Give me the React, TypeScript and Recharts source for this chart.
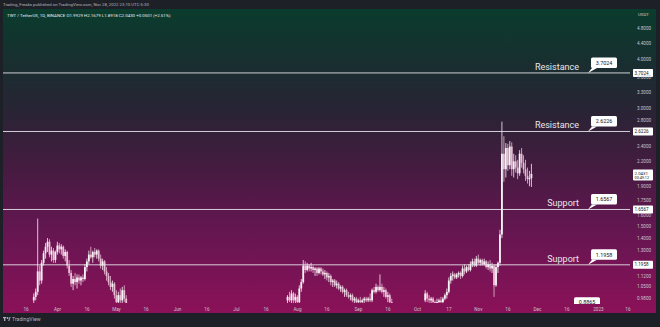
import { ComposedChart, Bar, XAxis, YAxis, ReferenceLine } from 'recharts';

// TWT / USDT daily candles, three visible stretches (the rest sits under the price range)
const springStart = '2022-03-20';
const springOpen = [0.97, 0.99, 1.02, 1.15, 1.09, 1.21, 1.28, 1.33, 1.37, 1.27, 1.3, 1.23, 1.29, 1.34, 1.31, 1.33, 1.26, 1.29, 1.19, 1.14, 1.07, 1.1, 1.08, 1.11, 1.09, 1.11, 1.1, 1.18, 1.22, 1.27, 1.25, 1.29, 1.27, 1.3, 1.24, 1.19, 1.22, 1.15, 1.12, 1.08, 1.05, 1.07, 1.0, 0.96, 1.0, 0.97, 1.03, 0.98];
const springHigh = [1.01, 1.04, 1.57, 1.19, 1.23, 1.3, 1.36, 1.4, 1.39, 1.33, 1.32, 1.3, 1.37, 1.36, 1.35, 1.34, 1.31, 1.3, 1.23, 1.16, 1.12, 1.14, 1.13, 1.13, 1.12, 1.13, 1.2, 1.24, 1.3, 1.33, 1.3, 1.32, 1.31, 1.31, 1.27, 1.24, 1.23, 1.18, 1.14, 1.12, 1.09, 1.08, 1.03, 1.02, 1.04, 1.05, 1.06, 1.0];
const springLow = [0.95, 0.97, 1.0, 1.06, 1.07, 1.19, 1.24, 1.29, 1.25, 1.22, 1.21, 1.21, 1.27, 1.28, 1.27, 1.24, 1.22, 1.17, 1.12, 1.05, 1.03, 1.06, 1.04, 1.07, 1.06, 1.08, 1.09, 1.15, 1.2, 1.24, 1.21, 1.25, 1.24, 1.22, 1.17, 1.16, 1.13, 1.09, 1.06, 1.03, 1.02, 0.98, 0.93, 0.94, 0.95, 0.95, 0.96, 0.9];
const springClose = [0.99, 1.02, 1.15, 1.09, 1.21, 1.28, 1.33, 1.37, 1.27, 1.3, 1.23, 1.29, 1.34, 1.31, 1.33, 1.26, 1.29, 1.19, 1.14, 1.07, 1.1, 1.08, 1.11, 1.09, 1.11, 1.1, 1.18, 1.22, 1.27, 1.25, 1.29, 1.27, 1.3, 1.24, 1.19, 1.22, 1.15, 1.12, 1.08, 1.05, 1.07, 1.0, 0.96, 1.0, 0.97, 1.03, 0.98, 0.92];

const summerStart = '2022-07-27';
const summerOpen = [0.97, 0.99, 0.97, 1.01, 0.97, 0.99, 0.96, 1.04, 1.08, 1.19, 1.16, 1.19, 1.17, 1.18, 1.16, 1.17, 1.14, 1.17, 1.15, 1.13, 1.14, 1.11, 1.12, 1.08, 1.09, 1.06, 1.07, 1.04, 1.05, 1.02, 1.03, 1.0, 0.99, 1.0, 0.97, 0.98, 0.96, 0.97, 0.96, 0.97, 0.98, 0.97, 0.98, 0.97, 1.03, 1.02, 1.05, 1.03, 1.05, 1.02, 1.03, 0.99, 1.0, 0.96];
const summerHigh = [1.0, 1.02, 1.03, 1.02, 1.01, 1.0, 1.06, 1.1, 1.23, 1.22, 1.21, 1.2, 1.21, 1.19, 1.18, 1.18, 1.18, 1.18, 1.17, 1.16, 1.15, 1.14, 1.13, 1.1, 1.1, 1.09, 1.08, 1.06, 1.06, 1.04, 1.04, 1.02, 1.01, 1.01, 0.99, 0.99, 0.98, 0.99, 0.98, 0.99, 0.99, 0.99, 1.01, 1.04, 1.05, 1.07, 1.06, 1.13, 1.07, 1.05, 1.04, 1.02, 1.01, 0.98];
const summerLow = [0.94, 0.96, 0.95, 0.95, 0.94, 0.93, 0.95, 1.02, 1.07, 1.14, 1.15, 1.15, 1.15, 1.14, 1.12, 1.12, 1.13, 1.13, 1.12, 1.1, 1.09, 1.08, 1.06, 1.05, 1.05, 1.04, 1.03, 1.02, 1.01, 0.99, 0.99, 0.98, 0.97, 0.96, 0.95, 0.95, 0.94, 0.95, 0.94, 0.95, 0.96, 0.96, 0.96, 0.96, 1.01, 1.01, 1.02, 1.02, 1.01, 0.99, 0.98, 0.96, 0.94, 0.93];
const summerClose = [0.99, 0.97, 1.01, 0.97, 0.99, 0.96, 1.04, 1.08, 1.19, 1.16, 1.19, 1.17, 1.18, 1.16, 1.17, 1.14, 1.17, 1.15, 1.13, 1.14, 1.11, 1.12, 1.08, 1.09, 1.06, 1.07, 1.04, 1.05, 1.02, 1.03, 1.0, 0.99, 1.0, 0.97, 0.98, 0.96, 0.97, 0.96, 0.97, 0.98, 0.97, 0.98, 0.97, 1.03, 1.02, 1.05, 1.03, 1.05, 1.02, 1.03, 0.99, 1.0, 0.96, 0.95];

const autumnStart = '2022-10-05';
const autumnOpen = [0.97, 1.01, 0.98, 0.97, 0.98, 0.96, 0.95, 0.96, 0.97, 0.96, 0.98, 1.0, 1.02, 1.09, 1.12, 1.13, 1.11, 1.13, 1.14, 1.12, 1.17, 1.15, 1.18, 1.16, 1.2, 1.22, 1.19, 1.24, 1.21, 1.23, 1.2, 1.22, 1.18, 1.2, 1.17, 1.19, 1.06, 1.18, 1.21, 1.43, 2.3, 2.1, 2.38, 2.15, 2.4, 2.1, 2.2, 2.12, 2.05, 2.3, 2.18, 2.1, 2.02, 1.98, 1.9929];
const autumnHigh = [1.03, 1.02, 1.0, 0.99, 0.99, 0.97, 0.98, 0.98, 0.99, 0.99, 1.01, 1.04, 1.11, 1.14, 1.15, 1.14, 1.14, 1.15, 1.15, 1.19, 1.2, 1.19, 1.2, 1.22, 1.24, 1.24, 1.26, 1.27, 1.24, 1.24, 1.24, 1.23, 1.22, 1.23, 1.21, 1.2, 1.2, 1.22, 1.47, 2.78, 2.55, 2.45, 2.44, 2.48, 2.46, 2.3, 2.28, 2.22, 2.35, 2.38, 2.28, 2.22, 2.12, 2.08, 2.1679];
const autumnLow = [0.96, 0.96, 0.95, 0.95, 0.95, 0.93, 0.94, 0.94, 0.95, 0.95, 0.97, 0.98, 1.01, 1.07, 1.09, 1.1, 1.1, 1.11, 1.1, 1.11, 1.13, 1.14, 1.15, 1.15, 1.18, 1.18, 1.18, 1.2, 1.19, 1.19, 1.19, 1.17, 1.16, 1.15, 1.14, 0.99, 1.05, 1.14, 1.19, 1.4, 1.95, 2.0, 2.08, 2.1, 2.02, 2.0, 2.06, 1.98, 2.02, 2.12, 2.05, 1.96, 1.93, 1.9, 1.8918];
const autumnClose = [1.01, 0.98, 0.97, 0.98, 0.96, 0.95, 0.96, 0.97, 0.96, 0.98, 1.0, 1.02, 1.09, 1.12, 1.13, 1.11, 1.13, 1.14, 1.12, 1.17, 1.15, 1.18, 1.16, 1.2, 1.22, 1.19, 1.24, 1.21, 1.23, 1.2, 1.22, 1.18, 1.2, 1.17, 1.19, 1.06, 1.18, 1.21, 1.43, 2.3, 2.1, 2.38, 2.15, 2.4, 2.1, 2.2, 2.12, 2.05, 2.3, 2.18, 2.1, 2.02, 1.98, 1.9929, 2.043];

const levelValues = [3.7024, 2.6226, 1.6567, 1.1958];
const levelNames = ['Resistance', 'Resistance', 'Support', 'Support'];
const lowerLevel = 0.8865;
const lastPrice = 2.0431;
const barCountdown = '00:49:12';

const priceTicks = [4.8, 4.4, 4.0, 3.6, 3.3, 3.0, 2.8, 2.4, 2.2, 1.9, 1.75, 1.6, 1.5, 1.4, 1.3, 1.12, 1.05, 0.98];
const dateTicks = ['2022-03-16', '2022-04-01', '2022-04-16', '2022-05-01', '2022-05-16', '2022-06-01', '2022-06-16', '2022-07-01', '2022-07-16', '2022-08-01', '2022-08-16', '2022-09-01', '2022-09-16', '2022-10-01', '2022-10-17', '2022-11-01', '2022-11-16', '2022-12-01', '2022-12-16', '2023-01-01', '2023-01-16'];
const dateTickLabels = ['16', 'Apr', '16', 'May', '16', 'Jun', '16', 'Jul', '16', 'Aug', '16', 'Sep', '16', 'Oct', '17', 'Nov', '16', 'Dec', '16', '2023', '16'];

const W = 660;
const H = 327;
const PANEL_X = 3;
const PANEL_Y = 9;
const PANEL_W = 653;
const PANEL_H = 304;
const X_AXIS_H = 10;
const Y_AXIS_W = 26;
const PLOT_RIGHT = PANEL_W - Y_AXIS_W;
const PLOT_BOTTOM = PANEL_H - X_AXIS_H;

const FONT = "Roboto, 'Noto Sans', sans-serif";
const UP = '#f6f3f6';
const DOWN = '#ebbdd4';
const LEVEL = 'rgba(236,236,242,0.85)';
const AXIS_TEXT = '#c9c4cc';
const BG =
  'linear-gradient(to bottom, #0a3c2d 0%, #15312f 14%, #282434 33%, #451b40 52%, #661652 74%, #8b1158 100%)';

const DAY = 86400000;
const origin = Date.parse('2022-03-16T00:00:00Z');
const dayIndex = (iso: string) => Math.round((Date.parse(iso + 'T00:00:00Z') - origin) / DAY);

function toRows(start: string, o: number[], h: number[], l: number[], c: number[]) {
  const d0 = dayIndex(start);
  return o.map((open, i) => ({
    d: d0 + i,
    open,
    high: h[i],
    low: l[i],
    close: c[i],
    range: [l[i], h[i]],
  }));
}

const candles = [
  ...toRows(springStart, springOpen, springHigh, springLow, springClose),
  ...toRows(summerStart, summerOpen, summerHigh, summerLow, summerClose),
  ...toRows(autumnStart, autumnOpen, autumnHigh, autumnLow, autumnClose),
];

const tickDays = dateTicks.map(dayIndex);
const tickLabelByDay: Record<number, string> = {};
tickDays.forEach((d, i) => (tickLabelByDay[d] = dateTickLabels[i]));

const last = candles[candles.length - 1];
const prev = candles[candles.length - 2];
const change = last.close - prev.close;
const symbolLine =
  `TWT / TetherUS, 1D, BINANCE  O${last.open.toFixed(4)}  H${last.high.toFixed(4)}  ` +
  `L${last.low.toFixed(4)}  C${last.close.toFixed(4)}  +${change.toFixed(4)} (+${((change / prev.close) * 100).toFixed(2)}%)`;

function Candle(props: any) {
  let { x, y, width, height } = props;
  const p = props.payload;
  if (x == null || y == null || !p) return null;
  if (height < 0) {
    y += height;
    height = -height;
  }
  const cx = x + width / 2;
  const span = Math.log(p.high) - Math.log(p.low);
  const yAt = (v: number) => (span > 0 ? y + ((Math.log(p.high) - Math.log(v)) / span) * height : y);
  const top = yAt(Math.max(p.open, p.close));
  const bottom = yAt(Math.min(p.open, p.close));
  const color = p.close >= p.open ? UP : DOWN;
  return (
    <g>
      <line x1={cx} x2={cx} y1={y} y2={y + height} stroke={color} strokeWidth={0.8} />
      <rect x={cx - 0.9} y={top} width={1.8} height={Math.max(0.9, bottom - top)} fill={color} />
    </g>
  );
}

function PriceTick({ x, y, payload }: any) {
  return (
    <text x={x + 5} y={y} dy={1.6} fontSize={4.6} fill={AXIS_TEXT} fontFamily={FONT}>
      {Number(payload.value).toFixed(4)}
    </text>
  );
}

function DateTick({ x, y, payload }: any) {
  return (
    <text x={x} y={y + 5.5} textAnchor="middle" fontSize={4.6} fill={AXIS_TEXT} fontFamily={FONT}>
      {tickLabelByDay[payload.value]}
    </text>
  );
}

function AxisTag({ y, text }: { y: number; text: string }) {
  return (
    <g>
      <rect x={PLOT_RIGHT + 3} y={y - 4} width={20} height={8} fill="#ffffff" rx={0.8} />
      <text x={PLOT_RIGHT + 4.5} y={y + 1.6} fontSize={4.6} fill="#131722" fontFamily={FONT}>
        {text}
      </text>
    </g>
  );
}

// level callout: caption on the left, value bubble with a tail dropping onto the line
function LevelTag(props: any) {
  const { viewBox, name, value, clip, shiftX = 0, lift = 0 } = props;
  if (!viewBox) return null;
  const y = viewBox.y - lift;
  const boxLeft = PLOT_RIGHT - 39 + shiftX;
  const text = value.toFixed(4);
  const bubble = (
    <g>
      <polygon points={`${boxLeft + 1},${y - 5} ${boxLeft + 6},${y - 5} ${boxLeft - 3},${y}`} fill="#ffffff" />
      <rect x={boxLeft} y={y - 15.5} width={26} height={10.5} rx={1.5} fill="#ffffff" />
      <text x={boxLeft + 13} y={y - 8.2} textAnchor="middle" fontSize={5.4} fill="#131722" fontFamily={FONT}>
        {text}
      </text>
    </g>
  );
  if (clip) {
    return (
      <g>
        <defs>
          <clipPath id="plotClip">
            <rect x={0} y={0} width={PLOT_RIGHT} height={PLOT_BOTTOM + 1} />
          </clipPath>
        </defs>
        <g clipPath="url(#plotClip)">{bubble}</g>
      </g>
    );
  }
  return (
    <g>
      {name && (
        <text x={PLOT_RIGHT - 51} y={y - 3} textAnchor="end" fontSize={9} fill="#e9e6ea" fontFamily={FONT}>
          {name}
        </text>
      )}
      {bubble}
      <AxisTag y={y} text={text} />
    </g>
  );
}

function LastPriceTag(props: any) {
  const { viewBox } = props;
  if (!viewBox) return null;
  const y = viewBox.y;
  return (
    <g>
      <rect x={PLOT_RIGHT + 3} y={y - 4.5} width={20} height={11} fill="#ffffff" rx={0.8} />
      <text x={PLOT_RIGHT + 4.5} y={y + 1} fontSize={4.4} fill="#131722" fontFamily={FONT}>
        {lastPrice.toFixed(4)}
      </text>
      <text x={PLOT_RIGHT + 4.5} y={y + 5.4} fontSize={3.8} fill="#131722" fontFamily={FONT}>
        {barCountdown}
      </text>
    </g>
  );
}

export default function App() {
  return (
    <div
      style={{
        position: 'fixed',
        left: 0,
        top: 0,
        width: W,
        height: H,
        background: '#1e2027',
        overflow: 'hidden',
        fontFamily: FONT,
      }}
    >
      <div style={{ position: 'absolute', left: PANEL_X, top: PANEL_Y, width: PANEL_W, height: PANEL_H, background: BG }}>
        <ComposedChart width={PANEL_W} height={PANEL_H} data={candles} margin={{ top: 0, right: 0, bottom: 0, left: 0 }}>
          <XAxis
            dataKey="d"
            type="number"
            domain={[-11.69, 307.07]}
            allowDataOverflow
            ticks={tickDays}
            interval={0}
            tick={<DateTick />}
            axisLine={false}
            tickLine={false}
            tickSize={0}
            height={X_AXIS_H}
          />
          <YAxis
            orientation="right"
            scale="log"
            domain={[0.955, 5.396]}
            allowDataOverflow
            ticks={priceTicks}
            interval={0}
            tick={<PriceTick />}
            axisLine={false}
            tickLine={false}
            tickSize={0}
            width={Y_AXIS_W}
          />
          <Bar dataKey="range" barSize={2} shape={<Candle />} isAnimationActive={false} />
          {levelValues.map((v, i) => (
            <ReferenceLine
              key={v}
              y={v}
              stroke={LEVEL}
              strokeWidth={1}
              label={(p: any) => <LevelTag {...p} name={levelNames[i]} value={v} />}
            />
          ))}
          <ReferenceLine
            y={lowerLevel}
            stroke={LEVEL}
            ifOverflow="visible"
            label={(p: any) => <LevelTag {...p} value={lowerLevel} clip shiftX={-17} lift={3} />}
          />
          <ReferenceLine y={lastPrice} stroke="none" label={(p: any) => <LastPriceTag {...p} />} />
        </ComposedChart>
      </div>
      <svg width={W} height={H} style={{ position: 'absolute', left: 0, top: 0, pointerEvents: 'none' }}>
        <text x={3} y={6} fontSize={4.3} fill="#b2b5be" fontFamily={FONT}>
          Trading_Freaks published on TradingView.com, Nov 28, 2022 23:10 UTC-5:30
        </text>
        <text x={7} y={17} fontSize={4.4} fill="#e8ecef" fontFamily={FONT}>
          {symbolLine}
        </text>
        <text x={PANEL_X + PLOT_RIGHT + 8} y={16} fontSize={4.4} fill={AXIS_TEXT} fontFamily={FONT}>
          USDT
        </text>
        <g fill="#b2b5be">
          <rect x={3} y={317} width={3.2} height={1.2} />
          <rect x={4.1} y={317} width={1.2} height={4} />
          <circle cx={7.6} cy={318} r={0.9} />
          <polygon points="8.2,321 9.6,317 10.6,317 9.2,321" />
        </g>
        <text x={12} y={321} fontSize={5.2} fill="#b2b5be" fontFamily={FONT}>
          TradingView
        </text>
      </svg>
    </div>
  );
}
